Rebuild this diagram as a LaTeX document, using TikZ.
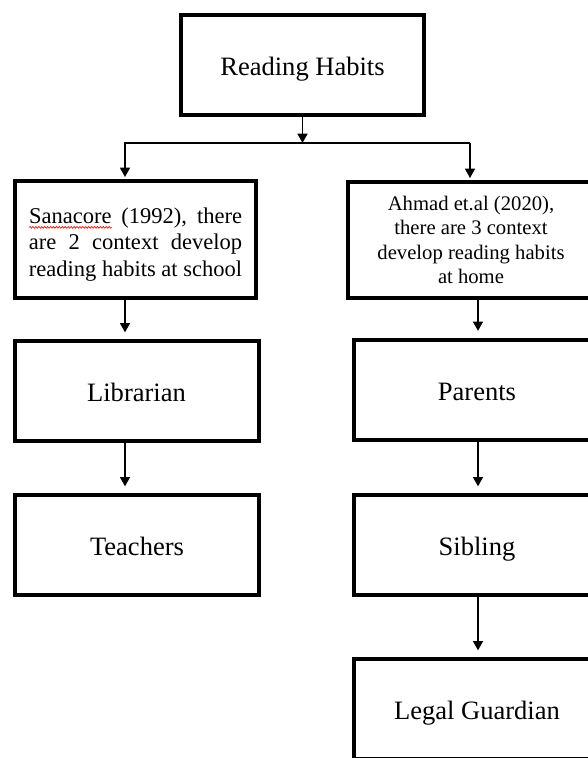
\documentclass[tikz,border=0pt]{standalone}
\usepackage{fontspec}
\setmainfont{Liberation Serif}
\usetikzlibrary{arrows.meta, decorations.pathmorphing}

% red spell-check squiggle under a word
\newcommand{\spellmark}[1]{\tikz[baseline=(sw.base)]{%
  \node[draw=none, inner sep=0pt, outer sep=0pt, minimum width=0pt,
        minimum height=0pt, text width=, align=left] (sw) {#1};
  \draw[red, line width=0.45pt, decorate,
        decoration={snake, amplitude=0.7pt, segment length=2.2pt}]
    ([yshift=-3pt]sw.base west) -- ([yshift=-3pt]sw.base east);}}
% one justified line of the school box
\newcommand{\fullline}[1]{\makebox[160pt][s]{#1}}

\begin{document}
\begin{tikzpicture}[x=0.75pt, y=-0.75pt,
    box/.style={draw, line width=3pt, align=center, inner sep=0pt},
    bigbox/.style={box, minimum height=75pt, text height=16.2pt, text depth=0pt,
                   font=\fontsize{19.9}{23}\selectfont},
    link/.style={line width=1.1pt, -{Triangle[width=7.5pt,length=7pt]}}]

\useasboundingbox (0,0) rectangle (588,758);

\node[bigbox, minimum width=182.25pt] (habits) at (302.5,65) {Reading Habits};

% --- the two context boxes ---------------------------------------------------
\node[box, minimum width=180.75pt, minimum height=87.75pt,
      font=\fontsize{16.9}{19.8}\selectfont] (school) at (135.5,239.5)
  {\rule{0pt}{19pt}\fullline{\spellmark{Sanacore} (1992), there}\\
   \fullline{are 2 context develop}\\
   reading habits at school};
\node[box, minimum width=184.5pt, minimum height=87pt,
      font=\fontsize{15.5}{18.3}\selectfont] (home) at (471,240)
  {Ahmad et.al (2020),\\there are 3 context\\develop reading habits\\at home};

% --- column boxes -- name/x/y/width/label -------------------------------------
\foreach \name/\cx/\cy/\w/\text in {%
    librarian/136.5/391/183/Librarian,
    teachers/137/545/183/Teachers,
    parents/477/389.5/184.5/Parents,
    sibling/477/545/184.5/Sibling,
    guardian/477/709/184.5/Legal Guardian}
  \node[bigbox, minimum width=\w pt] (\name) at (\cx,\cy) {\text};

% --- fork under the title ----------------------------------------------------
\coordinate (lfork) at (125,143);
\coordinate (rfork) at (470,143);
\coordinate (rcol) at (478,143);
\draw[link] (habits.south) -- (habits.south |- lfork);
\draw[link, shorten >=1.5pt] (rfork) -- (lfork) -- (lfork |- school.north);
\draw[link, shorten >=1.5pt] (rfork) -- (rfork |- home.north);

% --- chains down each column -------------------------------------------------
\foreach \col/\from/\to in {lfork/school/librarian, lfork/librarian/teachers,
    rcol/home/parents, rcol/parents/sibling, rcol/sibling/guardian}
  \draw[link, shorten >=5pt] (\col |- \from.south) -- (\col |- \to.north);
\end{tikzpicture}
\end{document}
